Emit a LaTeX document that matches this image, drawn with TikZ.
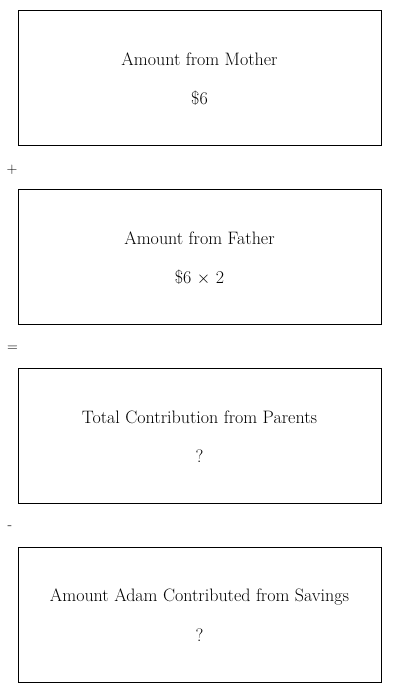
\documentclass[tikz,border=0pt]{standalone}
\begin{document}
\begin{tikzpicture}[x=1pt,y=-1pt,
  box/.style={draw,line width=0.9pt,minimum width=363pt,minimum height=135pt,inner sep=0pt},
  lbl/.style={font=\fontsize{18}{21}\selectfont,inner sep=0pt},
  op/.style={font=\fontsize{15}{18}\selectfont,inner sep=0pt}]
\useasboundingbox (0,0) rectangle (400,693);
\node[box] (b1) at (199.5,77.5) {};
\node[box] (b2) at (199.5,256.5) {};
\node[box] (b3) at (199.5,435.5) {};
\node[box] (b4) at (199.5,614.5) {};
\node[lbl] (t1) at ([yshift=18pt]b1.center) {Amount from Mother};
\node[lbl] (v1) at ([yshift=-21pt]b1.center) {\$6};
\node[lbl] (t2) at ([yshift=18pt]b2.center) {Amount from Father};
\node[lbl] (v2) at ([yshift=-21pt]b2.center) {\$6 $\times$ 2};
\node[lbl] (t3) at ([yshift=18pt]b3.center) {Total Contribution from Parents};
\node[lbl] (v3) at ([yshift=-21pt]b3.center) {?};
\node[lbl] (t4) at ([yshift=18pt]b4.center) {Amount Adam Contributed from Savings};
\node[lbl] (v4) at ([yshift=-21pt]b4.center) {?};
\node[op] (p) at (12,170) {+};
\node[op] (e) at (12.5,348.5) {=};
\node[op] (m) at (10,527.5) {-};
\end{tikzpicture}
\end{document}
